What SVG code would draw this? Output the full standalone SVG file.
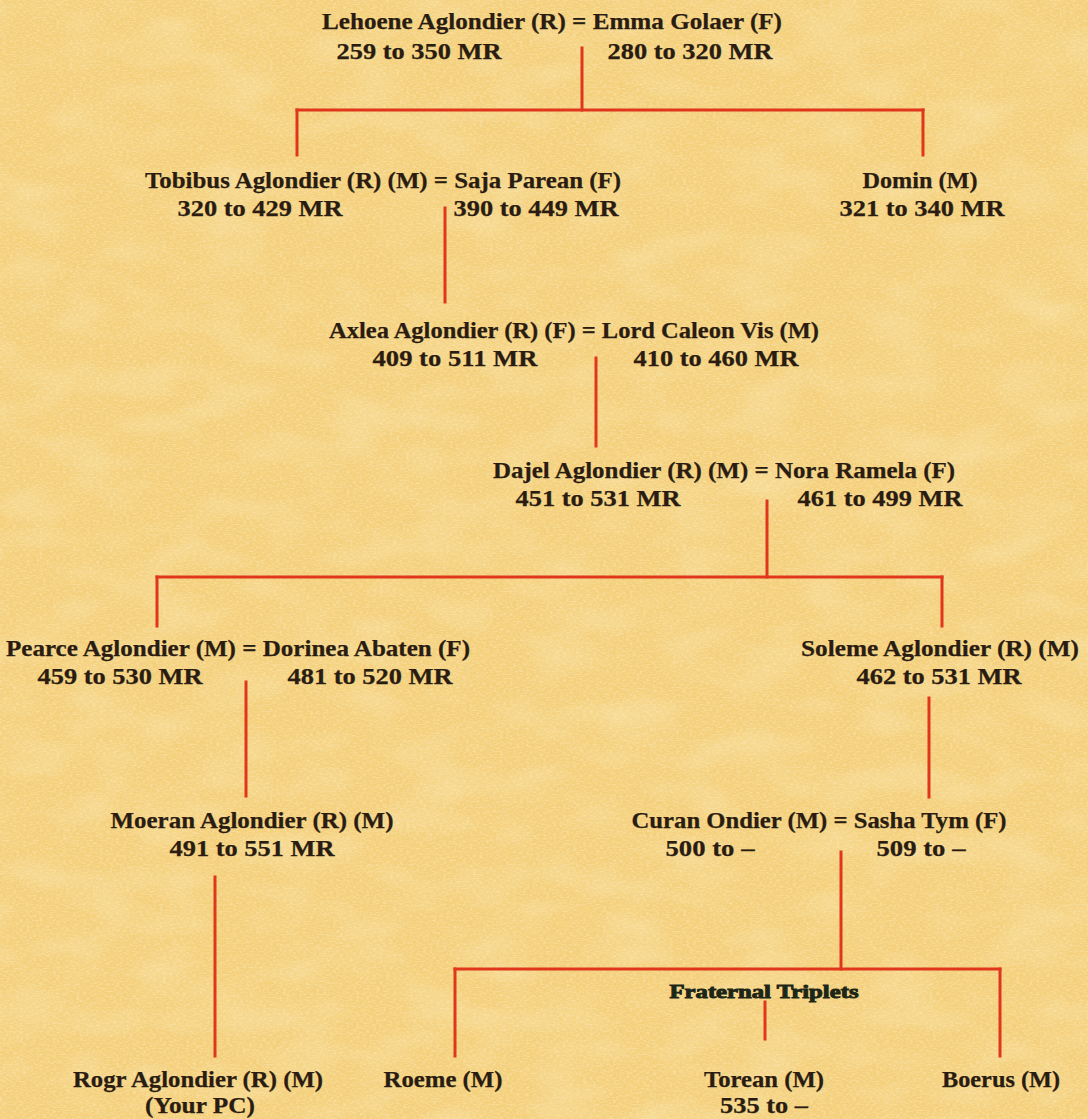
<svg xmlns="http://www.w3.org/2000/svg" width="1088" height="1119" viewBox="0 0 1088 1119">
<style>
text{font-family:"Liberation Serif","Times New Roman",serif;font-weight:bold;font-size:22.5px;fill:#2a1c10;stroke:#2a1c10;stroke-width:0.25;text-anchor:middle}
.tri{font-size:18px;fill:#1c2616;stroke:#1c2616;stroke-width:0.9}
#connectors line{stroke:#e0371c;stroke-width:3;stroke-linecap:square}
</style>
<defs>
<filter id="patches" x="0" y="0" width="100%" height="100%">
<feTurbulence type="fractalNoise" baseFrequency="0.015 0.03" numOctaves="2" seed="3"/>
<feColorMatrix type="matrix" values="0 0 0 0 1  0 0 0 0 0.93  0 0 0 0 0.68  0 0 0 -2.2 1.25"/>
</filter>
<filter id="grain" x="0" y="0" width="100%" height="100%">
<feTurbulence type="fractalNoise" baseFrequency="0.3 0.7" numOctaves="2" seed="11"/>
<feColorMatrix type="matrix" values="0 0 0 0 0.99  0 0 0 0 0.91  0 0 0 0 0.62  0 0 0 -3 1.7"/>
</filter>
</defs>
<rect width="1088" height="1119" fill="#f4d07d"/>
<rect width="1088" height="1119" filter="url(#patches)" opacity="0.25"/>
<rect width="1088" height="1119" filter="url(#grain)" opacity="0.35"/>

<g id="connectors">
<line x1="582" y1="48" x2="582" y2="110"/>
<line x1="297" y1="110" x2="923" y2="110"/>
<line x1="297" y1="110" x2="297" y2="155"/>
<line x1="923" y1="110" x2="923" y2="155"/>
<line x1="445" y1="208" x2="445" y2="302"/>
<line x1="596" y1="358" x2="596" y2="446"/>
<line x1="767" y1="501" x2="767" y2="577"/>
<line x1="157" y1="577" x2="942" y2="577"/>
<line x1="157" y1="577" x2="157" y2="626"/>
<line x1="942" y1="577" x2="942" y2="626"/>
<line x1="246" y1="682" x2="246" y2="796"/>
<line x1="929" y1="698" x2="929" y2="797"/>
<line x1="215" y1="877" x2="215" y2="1056"/>
<line x1="841" y1="852" x2="841" y2="969"/>
<line x1="455" y1="969" x2="1000" y2="969"/>
<line x1="455" y1="969" x2="455" y2="1056"/>
<line x1="1000" y1="969" x2="1000" y2="1056"/>
<line x1="765" y1="1002" x2="765" y2="1039"/>
</g>

<g id="lehoene-emma">
<text x="552" y="29" textLength="460" lengthAdjust="spacingAndGlyphs">Lehoene Aglondier (R) = Emma Golaer (F)</text>
<text x="419" y="59" textLength="165" lengthAdjust="spacingAndGlyphs">259 to 350 MR</text>
<text x="690" y="59" textLength="165" lengthAdjust="spacingAndGlyphs">280 to 320 MR</text>
</g>

<g id="tobibus-saja">
<text x="383" y="188" textLength="476" lengthAdjust="spacingAndGlyphs">Tobibus Aglondier (R) (M) = Saja Parean (F)</text>
<text x="260" y="216" textLength="165" lengthAdjust="spacingAndGlyphs">320 to 429 MR</text>
<text x="536" y="216" textLength="165" lengthAdjust="spacingAndGlyphs">390 to 449 MR</text>
</g>

<g id="domin">
<text x="920" y="188" textLength="115" lengthAdjust="spacingAndGlyphs">Domin (M)</text>
<text x="922" y="216" textLength="165" lengthAdjust="spacingAndGlyphs">321 to 340 MR</text>
</g>

<g id="axlea-caleon">
<text x="574" y="338" textLength="490" lengthAdjust="spacingAndGlyphs">Axlea Aglondier (R) (F) = Lord Caleon Vis (M)</text>
<text x="455" y="366" textLength="165" lengthAdjust="spacingAndGlyphs">409 to 511 MR</text>
<text x="716" y="366" textLength="165" lengthAdjust="spacingAndGlyphs">410 to 460 MR</text>
</g>

<g id="dajel-nora">
<text x="724" y="478" textLength="462" lengthAdjust="spacingAndGlyphs">Dajel Aglondier (R) (M) = Nora Ramela (F)</text>
<text x="598" y="506" textLength="165" lengthAdjust="spacingAndGlyphs">451 to 531 MR</text>
<text x="880" y="506" textLength="165" lengthAdjust="spacingAndGlyphs">461 to 499 MR</text>
</g>

<g id="pearce-dorinea">
<text x="238" y="656" textLength="464" lengthAdjust="spacingAndGlyphs">Pearce Aglondier (M) = Dorinea Abaten (F)</text>
<text x="120" y="684" textLength="165" lengthAdjust="spacingAndGlyphs">459 to 530 MR</text>
<text x="370" y="684" textLength="165" lengthAdjust="spacingAndGlyphs">481 to 520 MR</text>
</g>

<g id="soleme">
<text x="940" y="656" textLength="278" lengthAdjust="spacingAndGlyphs">Soleme Aglondier (R) (M)</text>
<text x="939" y="684" textLength="165" lengthAdjust="spacingAndGlyphs">462 to 531 MR</text>
</g>

<g id="moeran">
<text x="252" y="828" textLength="283" lengthAdjust="spacingAndGlyphs">Moeran Aglondier (R) (M)</text>
<text x="252" y="856" textLength="165" lengthAdjust="spacingAndGlyphs">491 to 551 MR</text>
</g>

<g id="curan-sasha">
<text x="819" y="828" textLength="375" lengthAdjust="spacingAndGlyphs">Curan Ondier (M) = Sasha Tym (F)</text>
<text x="710" y="856" textLength="89" lengthAdjust="spacingAndGlyphs">500 to –</text>
<text x="921" y="856" textLength="89" lengthAdjust="spacingAndGlyphs">509 to –</text>
</g>

<g id="triplets-label">
<text class="tri" x="764" y="998" textLength="189" lengthAdjust="spacingAndGlyphs">Fraternal Triplets</text>
</g>

<g id="rogr">
<text x="198" y="1087" textLength="250" lengthAdjust="spacingAndGlyphs">Rogr Aglondier (R) (M)</text>
<text x="200" y="1113" textLength="110" lengthAdjust="spacingAndGlyphs">(Your PC)</text>
</g>

<g id="roeme">
<text x="443" y="1087" textLength="119" lengthAdjust="spacingAndGlyphs">Roeme (M)</text>
</g>

<g id="torean">
<text x="764" y="1087" textLength="120" lengthAdjust="spacingAndGlyphs">Torean (M)</text>
<text x="764" y="1113" textLength="88" lengthAdjust="spacingAndGlyphs">535 to –</text>
</g>

<g id="boerus">
<text x="1001" y="1087" textLength="118" lengthAdjust="spacingAndGlyphs">Boerus (M)</text>
</g>
</svg>
